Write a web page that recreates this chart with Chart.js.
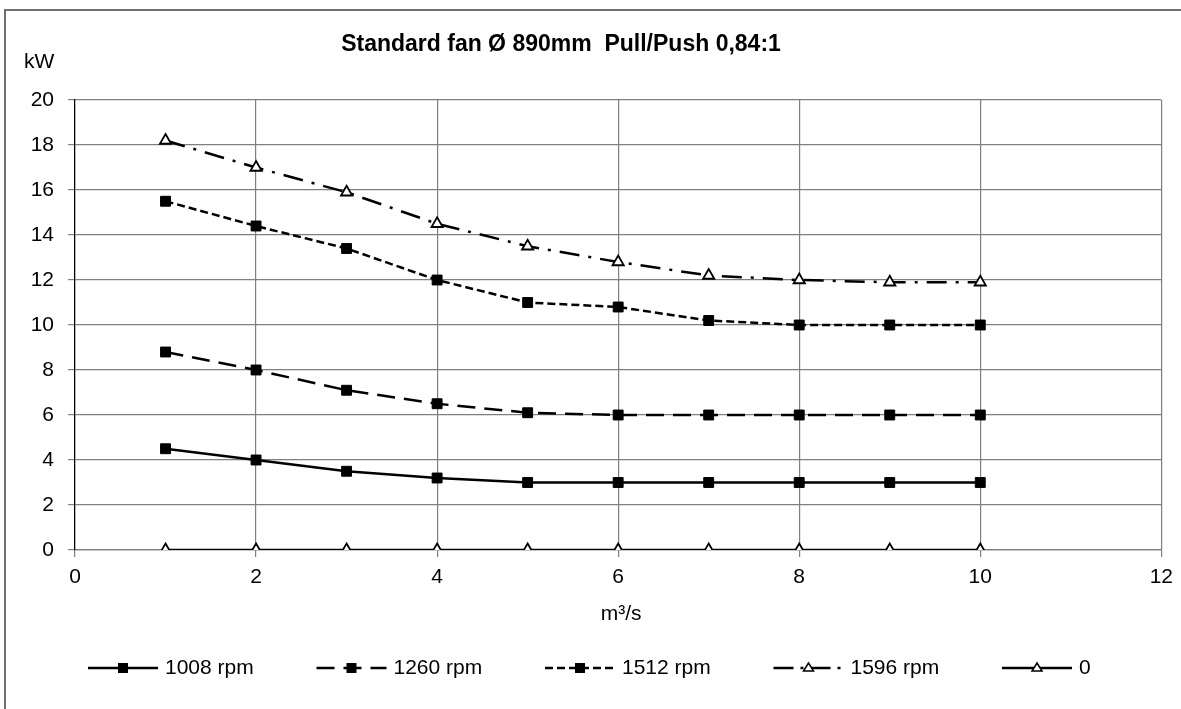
<!DOCTYPE html>
<html>
<head>
<meta charset="utf-8">
<script src="https://cdn.jsdelivr.net/npm/chart.js@4/dist/chart.umd.min.js"></script>
<style>
html,body{margin:0;padding:0;background:#fff;}
#wrap{width:1181px;height:709px;position:relative;}
</style>
</head>
<body>
<div id="wrap"><canvas id="c" width="1181" height="709"></canvas></div>
<script>
const titleText = "Standard fan Ø 890mm  Pull/Push 0,84:1";
const yAxisTitle = "kW";
const xAxisTitle = "m³/s";
const flowValues = [1, 2, 3, 4, 5, 6, 7, 8, 9, 10];
const seriesNames = ["1008 rpm", "1260 rpm", "1512 rpm", "1596 rpm", "0"];
const rpm1008 = [4.5, 4.0, 3.5, 3.2, 3.0, 3.0, 3.0, 3.0, 3.0, 3.0];
const rpm1260 = [8.8, 8.0, 7.1, 6.5, 6.1, 6.0, 6.0, 6.0, 6.0, 6.0];
const rpm1512 = [15.5, 14.4, 13.4, 12.0, 11.0, 10.8, 10.2, 10.0, 10.0, 10.0];
const rpm1596 = [18.2, 17.0, 15.9, 14.5, 13.5, 12.8, 12.2, 12.0, 11.9, 11.9];
const rpm0 = [0, 0, 0, 0, 0, 0, 0, 0, 0, 0];

const FONT = "'Liberation Sans', Arial, sans-serif";
const seriesValues = [rpm1008, rpm1260, rpm1512, rpm1596, rpm0];
const dashes = [[], [18, 9], [8, 4], [20, 9, 3, 9], []];
const legendDashes = [[], [18, 9], [8, 4], [20, 7, 3, 7], []];
const pointStyles = ['rect', 'rect', 'rect', 'triangle', 'triangle'];

const datasets = seriesValues.map((vals, i) => ({
  label: seriesNames[i],
  data: flowValues.map((x, j) => ({x: x, y: vals[j]})),
  borderColor: '#000',
  borderWidth: 2.5,
  borderDash: dashes[i],
  pointStyle: pointStyles[i],
  pointRadius: pointStyles[i] === 'rect' ? 7 : 6.5,
  pointBorderWidth: pointStyles[i] === 'rect' ? 1 : 1.8,
  pointBackgroundColor: pointStyles[i] === 'rect' ? '#000' : '#fff',
  pointBorderColor: '#000',
  tension: 0,
  fill: false
}));

const decor = {
  id: 'decor',
  beforeDraw(chart) {
    const ctx = chart.ctx;
    ctx.save();
    ctx.fillStyle = '#fff';
    ctx.fillRect(0, 0, chart.width, chart.height);
    ctx.restore();
  },
  afterDraw(chart) {
    const ctx = chart.ctx;
    const ca = chart.chartArea;
    ctx.save();
    // outer frame
    ctx.strokeStyle = '#6e6e6e';
    ctx.lineWidth = 2;
    ctx.beginPath();
    ctx.moveTo(5, 720);
    ctx.lineTo(5, 10);
    ctx.lineTo(1190, 10);
    ctx.stroke();
    // title
    ctx.fillStyle = '#000';
    ctx.font = 'bold 23px ' + FONT;
    ctx.textAlign = 'center';
    ctx.textBaseline = 'middle';
    ctx.fillText(titleText, 561, 45);
    // y axis title
    ctx.font = '21px ' + FONT;
    ctx.textAlign = 'left';
    ctx.fillText(yAxisTitle, 24, 62);
    // x axis title
    ctx.textAlign = 'center';
    ctx.fillText(xAxisTitle, (ca.left + ca.right) / 2 + 3, 614);
    // legend
    const ly = 668;
    const start = 88, step = 228.5, len = 70;
    chart.data.datasets.forEach((ds, i) => {
      const x0 = start + i * step;
      ctx.save();
      ctx.strokeStyle = '#000';
      ctx.lineWidth = 2.5;
      ctx.setLineDash(legendDashes[i]);
      ctx.beginPath();
      ctx.moveTo(x0, ly);
      ctx.lineTo(x0 + len, ly);
      ctx.stroke();
      ctx.setLineDash([]);
      const cx = x0 + len / 2;
      if (ds.pointStyle === 'rect') {
        ctx.fillStyle = '#000';
        ctx.fillRect(cx - 5, ly - 5, 10, 10);
      } else {
        ctx.fillStyle = '#fff';
        ctx.lineWidth = 1.5;
        ctx.beginPath();
        ctx.moveTo(cx, ly - 5);
        ctx.lineTo(cx + 5, ly + 3);
        ctx.lineTo(cx - 5, ly + 3);
        ctx.closePath();
        ctx.fill();
        ctx.stroke();
      }
      ctx.restore();
      ctx.fillStyle = '#000';
      ctx.font = '21px ' + FONT;
      ctx.textAlign = 'left';
      ctx.textBaseline = 'middle';
      ctx.fillText(ds.label, x0 + len + 7, ly);
    });
    ctx.restore();
  }
};

new Chart(document.getElementById('c'), {
  type: 'line',
  data: {datasets: datasets},
  plugins: [decor],
  options: {
    responsive: false,
    animation: false,
    devicePixelRatio: 1,
    layout: {padding: {top: 100, right: 19, left: 0, bottom: 0}},
    plugins: {legend: {display: false}, title: {display: false}, tooltip: {enabled: false}},
    scales: {
      x: {
        type: 'linear', min: 0, max: 12,
        afterFit(scale) { scale.height = 159; },
        ticks: {stepSize: 2, color: '#000', padding: 8, maxRotation: 0, font: {family: FONT, size: 21}},
        grid: {color: '#7f7f7f', lineWidth: 1.2, tickLength: 7},
        border: {color: '#7f7f7f', width: 1.2}
      },
      y: {
        min: 0, max: 20,
        afterFit(scale) { scale.width = 75; },
        ticks: {stepSize: 2, color: '#000', padding: 14, font: {family: FONT, size: 21}},
        grid: {color: '#7f7f7f', lineWidth: 1.2, tickLength: 7},
        border: {color: '#000', width: 1.2}
      }
    }
  }
});
</script>
</body>
</html>
